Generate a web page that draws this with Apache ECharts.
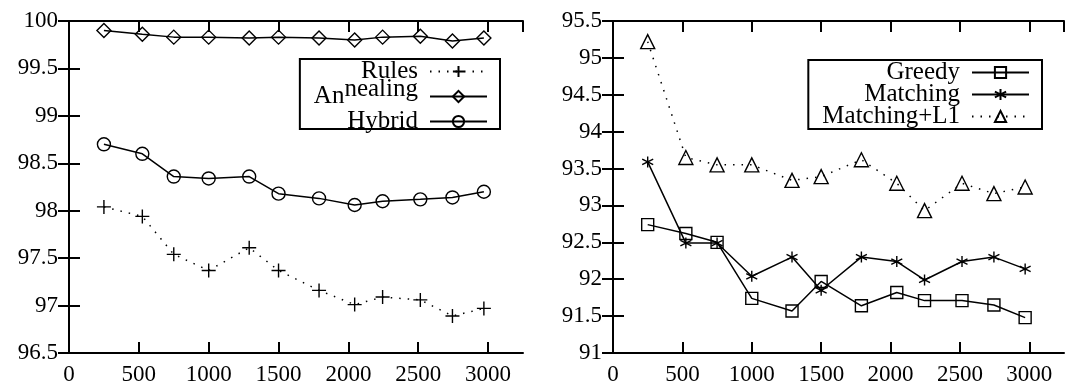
<!DOCTYPE html>
<html>
<head>
<meta charset="utf-8">
<script src="https://cdn.jsdelivr.net/npm/echarts@6/dist/echarts.min.js"></script>
<style>
html,body{margin:0;padding:0;background:#fff;}
#chart{width:1068px;height:391px;}
</style>
</head>
<body>
<div id="chart"></div>
<script>
// ---- data ----
var xVals = [250, 525, 750, 1000, 1290, 1500, 1790, 2045, 2245, 2515, 2745, 2970];
// left panel
var rules     = [98.04, 97.94, 97.54, 97.37, 97.61, 97.37, 97.16, 97.01, 97.09, 97.06, 96.89, 96.97];
var annealing = [99.90, 99.86, 99.83, 99.83, 99.82, 99.83, 99.82, 99.80, 99.83, 99.84, 99.79, 99.82];
var hybrid    = [98.70, 98.60, 98.36, 98.34, 98.36, 98.18, 98.13, 98.06, 98.10, 98.12, 98.14, 98.20];
// right panel
var greedy     = [92.74, 92.62, 92.50, 91.74, 91.57, 91.97, 91.64, 91.82, 91.71, 91.71, 91.65, 91.48];
var matching   = [93.59, 92.49, 92.49, 92.04, 92.30, 91.85, 92.30, 92.24, 91.99, 92.24, 92.30, 92.14];
var matchingL1 = [95.22, 93.65, 93.55, 93.55, 93.34, 93.39, 93.62, 93.30, 92.93, 93.30, 93.16, 93.25];
var leftNames  = ['Rules', 'Annealing', 'Hybrid'];
var rightNames = ['Greedy', 'Matching', 'Matching+L1'];

function pairs(ys){ return xVals.map(function(x,i){ return [x, ys[i]]; }); }

var FONT = 'Liberation Serif';
var PLUS = 'path://M0,5L10,5M5,0L5,10';
var STAR = 'path://M5,0L5,10M0.67,2.5L9.33,7.5M0.67,7.5L9.33,2.5';

function xAxisDef(gridIndex, pos){
  var bottom = pos === 'bottom';
  return {
    type: 'value', gridIndex: gridIndex, position: pos,
    min: 0, max: 3250, interval: 500,
    axisLine: {show: true, lineStyle: {color: '#000', width: 2}},
    axisTick: {show: true, inside: true, length: 11, lineStyle: {color: '#000', width: 2}},
    axisLabel: {show: bottom, color: '#000', fontFamily: FONT, fontSize: 23, margin: 10,
      showMaxLabel: false,
      formatter: function(v){ return v > 3000 ? '' : String(v); }},
    splitLine: {show: false}
  };
}
function yAxisDef(gridIndex, pos, mn, mx){
  var left = pos === 'left';
  return {
    type: 'value', gridIndex: gridIndex, position: pos,
    min: mn, max: mx, interval: 0.5,
    axisLine: {show: true, lineStyle: {color: '#000', width: 2}},
    axisTick: {show: true, inside: true, length: 11, lineStyle: {color: '#000', width: 2}},
    axisLabel: {show: left, color: '#000', fontFamily: FONT, fontSize: 23, margin: 11},
    splitLine: {show: false}
  };
}

function lineSeries(name, data, xi, yi, symbol, size, dotted){
  return {
    name: name, type: 'line', xAxisIndex: xi, yAxisIndex: yi,
    data: pairs(data),
    symbol: symbol, symbolSize: size, showSymbol: true,
    lineStyle: {color: '#000', width: 1.5, type: dotted ? [1.5, 7] : 'solid'},
    itemStyle: {color: 'none', borderColor: '#000', borderWidth: 1.4},
    emphasis: {disabled: true},
    z: 3
  };
}

function legendDef(names, right, top, raised){
  return {
    orient: 'vertical', align: 'right',
    right: right, top: top,
    data: names,
    itemWidth: 57, itemHeight: 14, itemGap: raised ? -14 : -3,
    padding: raised ? [-7, 12, -12, 14] : [0, 12, 0, 14],
    borderColor: '#000', borderWidth: 2, borderRadius: 0,
    backgroundColor: '#fff',
    selectedMode: false,
    formatter: function(n){
      if (n === 'Annealing') return '{a|An}{b|nealing}';
      return raised ? '{b|\u2009}{a|' + n + '}' : '{a|' + n + '}';
    },
    textStyle: {
      color: '#000', fontFamily: FONT, fontSize: 25, lineHeight: 22, padding: [0, 7, 0, 0],
      rich: {
        a: {fontFamily: FONT, fontSize: 25, lineHeight: 22, color: '#000'},
        b: {fontFamily: FONT, fontSize: 25, lineHeight: 22, padding: [0, 0, 14, 0], color: '#000'}
      }
    }
  };
}

var chart = echarts.init(document.getElementById('chart'), null, {renderer: 'canvas'});
chart.setOption({
  animation: false,
  backgroundColor: '#fff',
  textStyle: {fontFamily: FONT},
  grid: [
    {left: 69, right: 545, top: 21, bottom: 38},
    {left: 613, right: 4, top: 21, bottom: 38}
  ],
  xAxis: [xAxisDef(0, 'bottom'), xAxisDef(0, 'top'), xAxisDef(1, 'bottom'), xAxisDef(1, 'top')],
  yAxis: [yAxisDef(0, 'left', 96.5, 100), yAxisDef(0, 'right', 96.5, 100),
          yAxisDef(1, 'left', 91, 95.5), yAxisDef(1, 'right', 91, 95.5)],
  legend: [legendDef(leftNames, 568, 59, true), legendDef(rightNames, 26, 60, false)],
  series: [
    lineSeries(leftNames[0], rules, 0, 0, PLUS, 14, true),
    lineSeries(leftNames[1], annealing, 0, 0, 'diamond', 14, false),
    lineSeries(leftNames[2], hybrid, 0, 0, 'circle', 13, false),
    lineSeries(rightNames[0], greedy, 2, 2, 'rect', 12, false),
    lineSeries(rightNames[1], matching, 2, 2, STAR, 11, false),
    lineSeries(rightNames[2], matchingL1, 2, 2, 'triangle', 14, true)
  ]
});
</script>
</body>
</html>
